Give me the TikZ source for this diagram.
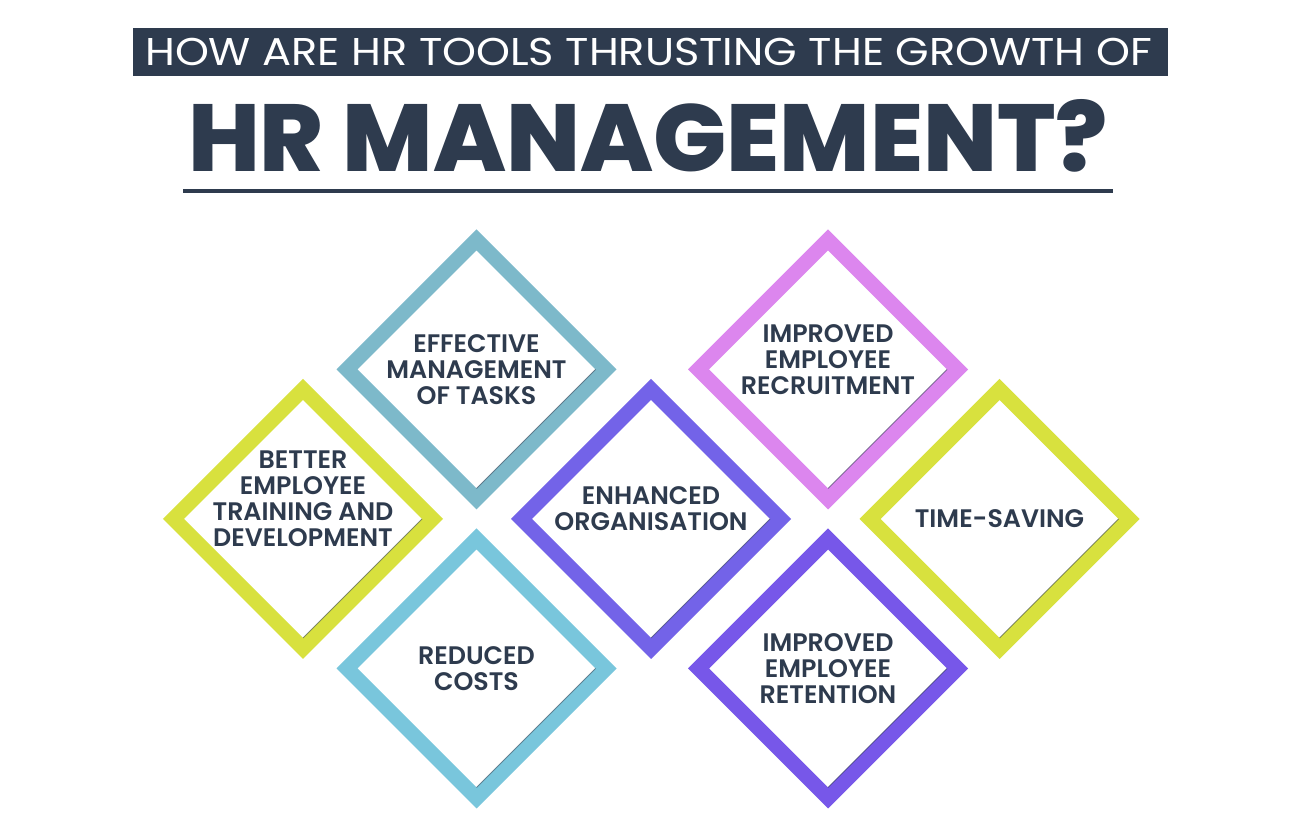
\documentclass[tikz,border=0pt]{standalone}
\usepackage{fontspec}
\setmainfont{Poppins}
\newfontfamily\tilefont{Poppins SemiBold}
\newfontfamily\heavyfont{Poppins ExtraBold}
\usetikzlibrary{shapes.geometric, calc}

\definecolor{navy}{HTML}{2E3B4E}
\definecolor{bgblue}{HTML}{DDEEF8}
\definecolor{effcol}{HTML}{7DB9CA}
\definecolor{yelcol}{HTML}{D8E13E}
\definecolor{redcol}{HTML}{79C6DC}
\definecolor{enhcol}{HTML}{7363E8}
\definecolor{reccol}{HTML}{DC86EE}
\definecolor{retcol}{HTML}{7757E9}
\pgfdeclareradialshading{bgglow}{\pgfpoint{0bp}{0bp}}{color(0bp)=(white); color(36bp)=(white); color(68bp)=(bgblue)}

\begin{document}
\begin{tikzpicture}[x=0.75pt, y=0.75pt,
    tile/.style={diamond, aspect=1, fill=white, line width=11.14pt,
      minimum width=194.25pt, minimum height=194.25pt, inner sep=0pt, outer sep=0pt},
    caption/.style={text=navy, align=center,
      font=\tilefont\fontsize{19}{19.5}\selectfont},
    shade line/.style={line width=0.75pt, draw=navy, opacity=0.55},
  ]
  \useasboundingbox (0,0) rectangle (1300,834);
  \shade[shading=bgglow] (0,0) rectangle (1300,834);

  % heading
  \node[fill=navy, minimum width=776.25pt, minimum height=36pt, inner sep=0pt]
    (bar) at (650.5,782) {};
  \node[text=white, inner sep=0pt] (sub) at (648.5,782.5)
    {\resizebox{755pt}{20.5pt}{HOW ARE HR TOOLS THRUSTING THE GROWTH OF}};
  \node[text=navy, inner sep=0pt] (head) at (648,698)
    {\resizebox{690pt}{54pt}{\heavyfont HR MANAGEMENT?}};
  \coordinate (u1) at (183,643);
  \coordinate (u2) at (1113,643);
  \draw[navy, line width=3pt] (u1) -- (u2);

  % diamonds
  \node[tile, draw=effcol] (eff) at (476.5,464.5) {};
  \node[tile, draw=yelcol] (btr) at (303,315) {};
  \node[tile, draw=redcol] (red) at (476.5,165.5) {};
  \node[tile, draw=enhcol] (enh) at (651,315) {};
  \node[tile, draw=reccol] (rec) at (828,464.5) {};
  \node[tile, draw=yelcol] (tim) at (999.5,315) {};
  \node[tile, draw=retcol] (ret) at (828,165.5) {};
  \foreach \n in {eff,btr,red,enh,rec,tim,ret}
    \draw[shade line] ($(\n.east)+(-10.5,0)$) -- ($(\n.south)+(0,10.5)$);

  % captions
  \node[caption] (eff-t) at (476.5,464.5) {EFFECTIVE\\MANAGEMENT\\OF TASKS};
  \node[caption] (btr-t) at (303,335.5) {BETTER\\EMPLOYEE\\TRAINING AND\\DEVELOPMENT};
  \node[caption] (red-t) at (476.5,165) {REDUCED\\COSTS};
  \node[caption] (enh-t) at (651,325) {ENHANCED\\ORGANISATION};
  \node[caption] (rec-t) at (828,474.5) {IMPROVED\\EMPLOYEE\\RECRUITMENT};
  \node[caption] (tim-t) at (999.5,315) {TIME-SAVING};
  \node[caption] (ret-t) at (828,165.5) {IMPROVED\\EMPLOYEE\\RETENTION};
\end{tikzpicture}
\end{document}
